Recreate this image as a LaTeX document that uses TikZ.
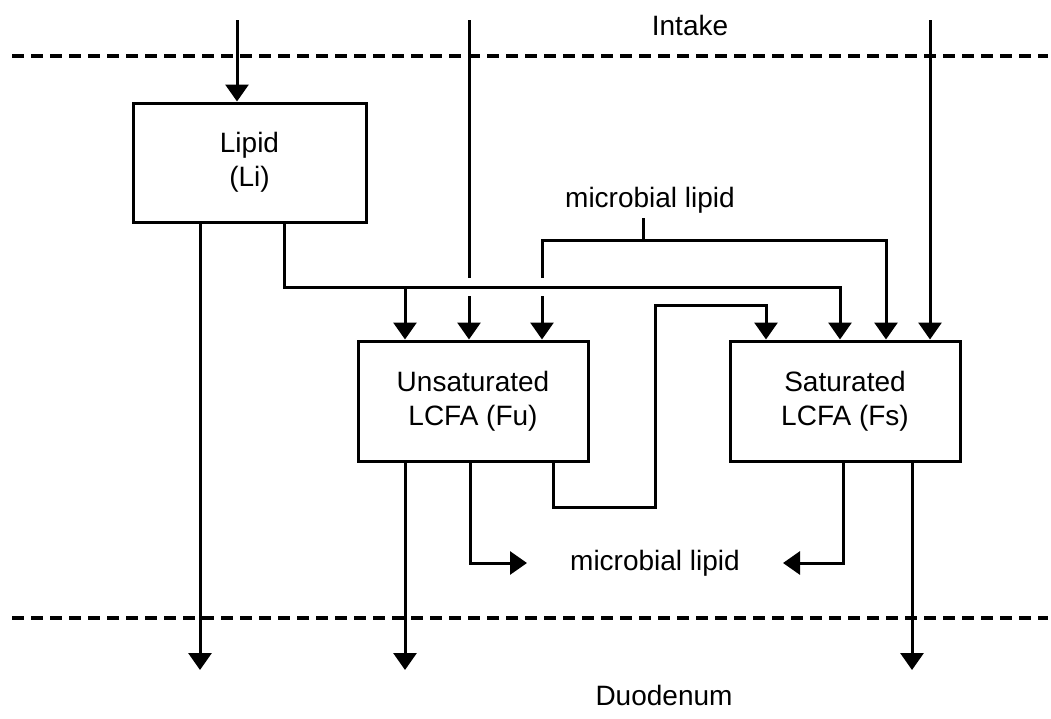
\documentclass[tikz,border=0pt]{standalone}
\usepackage{fontspec}
\setmainfont{Liberation Sans}
\usetikzlibrary{arrows.meta,positioning,calc}
\tikzset{
 pool/.style={draw,line width=3pt,align=center,font=\fontsize{28}{34}\selectfont,
   minimum width=230pt,minimum height=120pt,inner sep=0pt},
 flow/.style={line width=3pt},
 arr/.style={flow,-{Triangle[length=17pt,width=23pt]}},
 zone/.style={line width=3.2pt,dash pattern=on 12pt off 7pt},
 lbl/.style={font=\fontsize{28}{34}\selectfont,inner sep=0pt}
}
\begin{document}
\begin{tikzpicture}[x=1pt,y=-1pt]
\useasboundingbox (0,0) rectangle (1051,718);
% pools
\node[pool,minimum width=233pt,minimum height=119pt] (lipid) at (249.5,162.5) {Lipid\\(Li)};
\node[pool] (unsat) at (473,401) {Unsaturated\\LCFA (Fu)};
\node[pool,right=139pt of unsat] (sat) {Saturated\\LCFA (Fs)};
% labels
\node[lbl] (intake) at (690,25) {Intake};
\node[lbl] (duod) at (664,695) {Duodenum};
\node[lbl] (mltop) at (650,200) {microbial lipid};
\node[lbl] (mlbot) at (655,563) {microbial lipid};
% boundaries
\coordinate (zt1) at (12,56); \coordinate (zt2) at (1048,56);
\coordinate (zb1) at (12,618); \coordinate (zb2) at (1048,618);
\draw[zone] (zt1) -- (zt2);
\draw[zone] (zb1) -- (zb2);
% intake
\coordinate (inL) at (237,20);
\coordinate (inU) at (469,20);
\coordinate (inS) at (930,20);
\coordinate (bus) at (284,287);
\draw[arr] (inL) -- (inL |- lipid.north);
\draw[flow] (inU) -- ([yshift=9pt]bus -| inU);
\draw[arr] ([yshift=-9pt]bus -| inU) -- (inU |- unsat.north);
\draw[arr] (inS) -- (inS |- sat.north);
% lipid hydrolysis
\coordinate (dU) at (405,670);
\draw[arr] (bus |- lipid.south) -- (bus) -| ([xshift=-5pt]sat.north);
\draw[arr] (bus -| dU) -- (dU |- unsat.north);
% microbial lipid in
\coordinate (mlfork) at (643,240);
\coordinate (mlU) at ([xshift=69pt]unsat.north);
\draw[flow] ([xshift=-7pt,yshift=-5pt]mltop.south) -- (mlfork);
\draw[arr] (mlfork) -| ([xshift=41pt]sat.north);
\draw[flow] (mlfork) -| ([yshift=9pt]bus -| mlU);
\draw[arr] ([yshift=-9pt]bus -| mlU) -- (mlU);
% biohydrogenation
\coordinate (loopA) at (655,507);
\coordinate (loopB) at (655,305);
\draw[arr] ([xshift=80pt]unsat.south) |- (loopA) -- (loopB) -| ([xshift=-79pt]sat.north);
% microbial lipid out
\draw[arr] ([xshift=-3pt]unsat.south) |- ([xshift=-43pt]mlbot.west);
\draw[arr] ([xshift=-2pt]sat.south) |- ([xshift=43pt]mlbot.east);
% duodenum
\coordinate (dL) at (200,670);
\coordinate (dS) at (912,670);
\draw[arr] (dL |- lipid.south) -- (dL);
\draw[arr] (dU |- unsat.south) -- (dU);
\draw[arr] (dS |- sat.south) -- (dS);
\end{tikzpicture}
\end{document}
